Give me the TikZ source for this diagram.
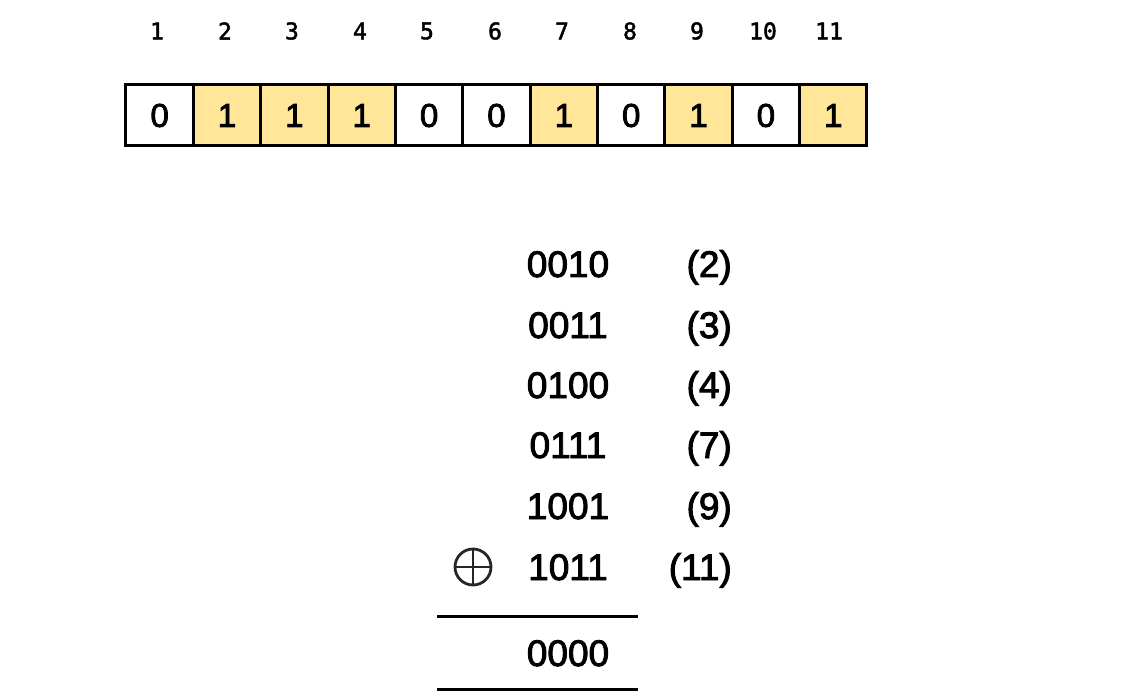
\documentclass[tikz,border=0pt]{standalone}
\usepackage{fontspec}
\setmainfont{Liberation Sans}
\newfontfamily\heavyfam{Liberation Sans}[FakeBold=2.5]
\newfontfamily\monofam{DejaVu Sans Mono}[FakeBold=2]
\definecolor{cellyellow}{HTML}{FFE699}
\definecolor{opdark}{HTML}{2A2520}
\begin{document}
\begin{tikzpicture}[x=1pt,y=-1pt,
  cell/.style={draw=black, line width=3pt, minimum width=67.4pt, minimum height=61pt, inner sep=0pt, font=\heavyfam\fontsize{33}{40}\selectfont},
  hl/.style={cell, fill=cellyellow},
  idx/.style={inner sep=0pt, font=\monofam\fontsize{23}{26}\selectfont},
  bits/.style={inner sep=0pt, anchor=base, font=\heavyfam\fontsize{37}{44}\selectfont},
  lab/.style={inner sep=0pt, anchor=base east, font=\heavyfam\fontsize{37}{44}\selectfont},
  rule/.style={line width=3pt}]
\useasboundingbox (0,0) rectangle (1145,700);
% index labels
\foreach \i/\x in {1/157,2/225,3/292,4/360,5/427,6/495,7/562,8/630,9/697,10/763,11/829}
  \node[idx] (n\i) at (\x,31) {\i};
% cells
\foreach \i/\b/\s in {1/0/cell,2/1/hl,3/1/hl,4/1/hl,5/0/cell,6/0/cell,7/1/hl,8/0/cell,9/1/hl,10/0/cell,11/1/hl}
  \node[\s] (c\i) at ({126+67.36*(\i-0.5)},115.5) {\b};
% list
\node[bits] (b1) at (568,277) {0010};
\node[bits] (b2) at (568,338) {0011};
\node[bits] (b3) at (568,398) {0100};
\node[bits] (b4) at (568,458) {0111};
\node[bits] (b5) at (568,519) {1001};
\node[bits] (b6) at (568,580) {1011};
\node[lab] (l1) at (732,277) {(2)};
\node[lab] (l2) at (732,338) {(3)};
\node[lab] (l3) at (732,398) {(4)};
\node[lab] (l4) at (732,458) {(7)};
\node[lab] (l5) at (732,519) {(9)};
\node[lab] (l6) at (732,580) {(11)};
% xor symbol
\node[draw=opdark, circle, line width=2.8pt, minimum size=36pt, inner sep=0pt] (xor) at (473,567) {};
\draw[opdark, line width=2.8pt] (xor.north) -- (xor.south) (xor.west) -- (xor.east);
% rules and result
\coordinate (r1a) at (437,616); \coordinate (r1b) at (638,616);
\coordinate (r2a) at (437,689); \coordinate (r2b) at (638,689);
\draw[rule] (r1a) -- (r1b);
\draw[rule] (r2a) -- (r2b);
\node[bits] (res) at (568,666) {0000};
\end{tikzpicture}
\end{document}
